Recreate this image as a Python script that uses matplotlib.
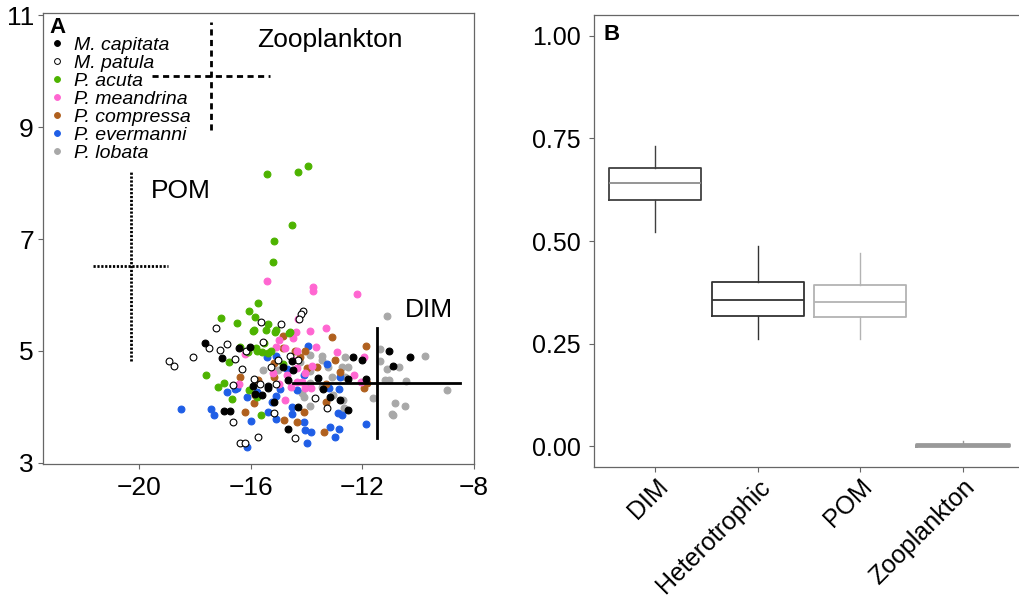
import matplotlib.pyplot as plt
from matplotlib.lines import Line2D

plt.rcParams['font.family'] = ['Liberation Sans', 'DejaVu Sans']

# --- panel A: d13C (x) vs d15N (y) per coral species ---
capitata_x = [-17.63, -16.02, -16.42, -17.03, -14.52, -14.84, -14.48, -14.66, -15.91, -15.38,
              -15.38, -15.59, -15.84, -15.16, -14.30, -16.95, -16.74, -14.66, -12.33, -12.01,
              -11.04, -10.29, -10.90, -13.58, -12.51, -11.86, -13.41, -13.15, -12.80, -12.51]
capitata_y = [5.14, 5.07, 5.05, 4.88, 4.82, 4.71, 4.66, 4.48, 4.38, 4.38,
              4.34, 4.21, 4.23, 4.09, 4.00, 3.93, 3.93, 3.61, 4.89, 4.84,
              5.00, 4.89, 4.73, 4.52, 4.50, 4.50, 4.32, 4.18, 4.13, 3.95]

patula_x = [-15.63, -14.91, -17.24, -15.56, -17.49, -16.85, -17.10, -14.59, -14.30, -16.16,
            -18.06, -16.56, -18.92, -18.75, -15.02, -15.27, -16.31, -15.88, -16.63, -15.66,
            -15.09, -15.16, -16.63, -15.73, -14.41, -16.38, -16.20, -14.12, -14.19, -14.27,
            -13.69, -13.26]
patula_y = [5.52, 5.48, 5.41, 5.16, 5.05, 5.13, 5.02, 4.91, 4.84, 5.00,
            4.89, 4.86, 4.82, 4.73, 4.84, 4.71, 4.68, 4.50, 4.39, 4.41,
            4.41, 3.89, 3.73, 3.46, 3.45, 3.36, 3.36, 5.71, 5.66, 5.57,
            4.16, 3.98]

acuta_x = [-15.41, -14.30, -13.94, -14.52, -15.16, -15.20, -15.73, -16.06, -15.84, -17.06,
           -16.49, -15.38, -15.88, -15.91, -15.45, -15.09, -15.13, -14.62, -16.38, -15.81,
           -15.77, -15.52, -15.27, -15.38, -15.59, -16.09, -16.77, -14.84, -17.60, -16.95,
           -17.17, -16.06, -15.77, -16.67, -15.63, -14.59]
acuta_y = [8.16, 8.20, 8.30, 7.25, 6.96, 6.59, 5.86, 5.71, 5.61, 5.59,
           5.50, 5.48, 5.38, 5.36, 5.38, 5.38, 5.34, 5.32, 5.07, 5.05,
           5.00, 5.14, 5.00, 4.96, 4.98, 4.98, 4.80, 4.77, 4.57, 4.43,
           4.36, 4.30, 4.18, 4.14, 3.86, 5.34]

meandrina_x = [-15.41, -13.76, -13.76, -12.19, -14.37, -14.98, -14.48, -15.09, -14.77, -14.34,
               -16.20, -14.34, -15.20, -14.70, -16.42, -14.98, -14.55, -14.77, -14.30, -13.87,
               -13.30, -13.66, -12.90, -11.94, -14.48, -13.80, -14.05, -12.29, -12.04, -14.16,
               -14.34, -13.84, -14.05]
meandrina_y = [6.25, 6.14, 6.07, 6.02, 5.34, 5.20, 5.23, 5.07, 5.05, 5.00,
               4.95, 4.70, 4.61, 4.57, 4.41, 4.41, 4.36, 4.13, 5.57, 5.36,
               5.41, 5.07, 4.98, 4.89, 4.84, 4.73, 4.61, 4.57, 4.45, 4.45,
               4.45, 4.34, 4.34]

compressa_x = [-14.84, -14.84, -14.41, -15.16, -16.38, -15.16, -15.73, -15.84, -15.88, -16.20,
               -14.80, -14.34, -13.08, -11.86, -14.05, -14.23, -12.97, -13.98, -13.62, -12.80,
               -11.83, -11.94, -13.30, -13.30, -14.09, -13.37]
compressa_y = [5.27, 5.05, 5.00, 4.79, 4.54, 4.54, 4.48, 4.21, 4.07, 3.91,
               3.77, 3.73, 5.25, 5.09, 5.00, 4.89, 4.84, 4.70, 4.71, 4.63,
               4.43, 4.34, 4.41, 4.09, 3.91, 3.55]

evermanni_x = [-15.41, -15.09, -14.70, -14.34, -16.49, -16.56, -16.85, -14.95, -15.77, -16.13,
               -15.09, -15.23, -14.52, -18.49, -17.42, -17.31, -15.38, -14.52, -15.09, -15.99,
               -16.13, -13.94, -13.26, -14.09, -12.80, -12.83, -13.19, -12.87, -12.72, -14.09,
               -13.15, -12.83, -11.86, -14.05, -13.84, -12.97, -13.98]
evermanni_y = [4.89, 4.91, 4.68, 4.30, 4.34, 4.32, 4.27, 4.32, 4.27, 4.18,
               4.20, 4.09, 4.00, 3.96, 3.96, 3.86, 3.91, 3.88, 3.79, 3.75,
               3.29, 5.09, 4.77, 4.57, 4.54, 4.32, 4.34, 3.89, 3.86, 3.73,
               3.64, 3.61, 3.70, 3.59, 3.55, 3.46, 3.36]

lobata_x = [-15.56, -15.02, -11.11, -13.87, -13.44, -12.62, -11.36, -9.75, -11.36, -14.23,
            -13.44, -13.23, -12.72, -12.51, -11.11, -10.68, -13.87, -13.08, -12.62, -11.18,
            -11.04, -10.43, -8.96, -13.87, -13.26, -13.44, -13.05, -14.16, -14.09, -11.61,
            -12.69, -10.82, -10.47, -13.87, -12.65, -10.93, -10.90]
lobata_y = [4.66, 4.66, 5.63, 4.93, 4.91, 4.89, 5.04, 4.91, 4.82, 4.80,
            4.84, 4.71, 4.71, 4.71, 4.68, 4.71, 4.64, 4.54, 4.54, 4.48,
            4.48, 4.46, 4.30, 4.43, 4.39, 4.36, 4.21, 4.25, 4.18, 4.16,
            4.13, 4.07, 4.02, 4.02, 3.98, 3.88, 3.86]

# food sources: mean and sd on both axes
sources = ['POM', 'Zooplankton', 'DIM']
src_mean_x = [-20.30, -17.42, -11.48]
src_mean_y = [6.52, 9.91, 4.43]
src_sd_x = [1.33, 2.10, 3.00]
src_sd_y = [1.70, 0.97, 0.98]
src_styles = [(0, (0.8, 0.6)), (0, (2.2, 1.6)), '-']
src_label_x = [-19.57, -15.77, -10.47]
src_label_y = [7.73, 10.43, 5.61]

# --- panel B: proportional source contributions ---
categories = ['DIM', 'Heterotrophic', 'POM', 'Zooplankton']
whis_lo = [0.522, 0.262, 0.262, 0.000]
q1 = [0.599, 0.317, 0.315, 0.001]
median = [0.641, 0.356, 0.351, 0.003]
q3 = [0.678, 0.400, 0.393, 0.005]
whis_hi = [0.731, 0.487, 0.471, 0.013]

species = [
    ('M. capitata', capitata_x, capitata_y, 'black', 'black'),
    ('M. patula', patula_x, patula_y, 'white', 'black'),
    ('P. acuta', acuta_x, acuta_y, '#4db300', '#4db300'),
    ('P. meandrina', meandrina_x, meandrina_y, '#ff66d1', '#ff66d1'),
    ('P. compressa', compressa_x, compressa_y, '#b0601e', '#b0601e'),
    ('P. evermanni', evermanni_x, evermanni_y, '#1f5ee6', '#1f5ee6'),
    ('P. lobata', lobata_x, lobata_y, '#a8a8a8', '#a8a8a8'),
]

spine_col = '#666666'


def style_axes(ax, size):
    for s in ax.spines.values():
        s.set_color(spine_col)
        s.set_linewidth(0.9)
    ax.tick_params(colors=spine_col, labelcolor='black', labelsize=size,
                   length=3.5, width=0.8)


fig = plt.figure(figsize=(10.19, 6.0), dpi=100)

# Panel A
axA = fig.add_axes([0.0422, 0.2267, 0.423, 0.7517])
for name, xs, ys, fc, ec in reversed(species):
    axA.scatter(xs, ys, s=24, facecolor=fc, edgecolor=ec, linewidth=0.8, zorder=3)

for i in range(len(sources)):
    mx, my = src_mean_x[i], src_mean_y[i]
    sx, sy = src_sd_x[i], src_sd_y[i]
    axA.plot([mx - sx, mx + sx], [my, my], color='black', lw=2,
             linestyle=src_styles[i], zorder=4)
    axA.plot([mx, mx], [my - sy, my + sy], color='black', lw=2,
             linestyle=src_styles[i], zorder=4)
    axA.text(src_label_x[i], src_label_y[i], sources[i], fontsize=19,
             ha='left', va='baseline')

axA.set_xlim(-23.44, -7.99)
axA.set_ylim(2.98, 11.04)
axA.set_xticks([-20, -16, -12, -8])
axA.set_yticks([3, 5, 7, 9, 11])
style_axes(axA, 19)
axA.tick_params(axis='x', pad=5)
axA.tick_params(axis='y', pad=3)

handles = []
for name, xs, ys, fc, ec in species:
    handles.append(Line2D([], [], ls='none', marker='o', markersize=4.2,
                          markerfacecolor=fc, markeredgecolor=ec,
                          markeredgewidth=0.7, label=name))
axA.legend(handles=handles, loc='upper left', bbox_to_anchor=(0.0, 0.962),
           frameon=False, prop={'style': 'italic', 'size': 14},
           handlelength=0.8, handletextpad=0.5, labelspacing=0.02,
           borderaxespad=0, borderpad=0.3)
axA.text(0.016, 0.991, 'A', transform=axA.transAxes, fontsize=16,
         fontweight='bold', ha='left', va='top')

# Panel B
axB = fig.add_axes([0.5829, 0.2217, 0.422, 0.753])
edge_cols = ['#404040', '#333333', '#b3b3b3', '#999999']
med_cols = ['#8c8c8c', '#333333', '#b3b3b3', '#999999']
lws = [1.3, 1.3, 1.3, 2.0]
for i, cat in enumerate(categories):
    stat = dict(label=cat, whislo=whis_lo[i], q1=q1[i], med=median[i],
                q3=q3[i], whishi=whis_hi[i], fliers=[])
    axB.bxp([stat], positions=[i + 1], widths=0.9, showcaps=False,
            showfliers=False,
            boxprops=dict(color=edge_cols[i], lw=lws[i]),
            medianprops=dict(color=med_cols[i], lw=lws[i]),
            whiskerprops=dict(color=edge_cols[i], lw=1.0))

axB.set_xlim(0.4, 4.6)
axB.set_ylim(-0.05, 1.05)
axB.set_yticks([0, 0.25, 0.5, 0.75, 1.0])
axB.set_yticklabels(['0.00', '0.25', '0.50', '0.75', '1.00'])
axB.set_xticks([1, 2, 3, 4])
axB.set_xticklabels(categories, rotation=45, ha='right', va='top',
                    rotation_mode='anchor')
style_axes(axB, 18)
axB.tick_params(axis='y', pad=6)
axB.tick_params(axis='x', pad=2)
axB.text(0.021, 0.98, 'B', transform=axB.transAxes, fontsize=16,
         fontweight='bold', ha='left', va='top')

fig.savefig('out.png', dpi=100, facecolor='white')
